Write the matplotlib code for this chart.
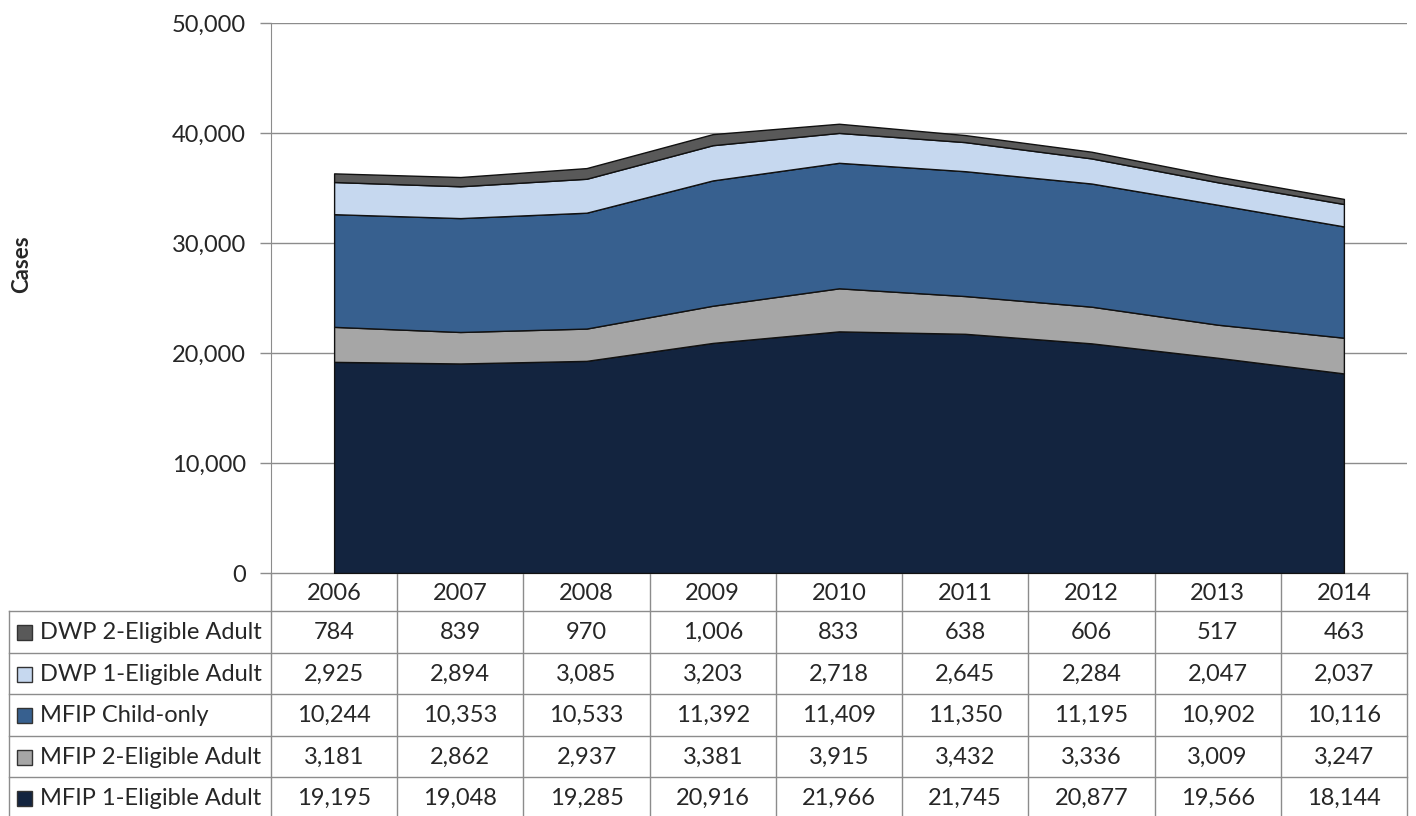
import numpy as np
import matplotlib
matplotlib.use('Agg')
import matplotlib.pyplot as plt
from matplotlib.patches import Rectangle

plt.rcParams['font.family'] = ['Lato', 'DejaVu Sans']

years = ['2006', '2007', '2008', '2009', '2010', '2011', '2012', '2013', '2014']

# stack order, bottom to top
mfip_1 = [19195, 19048, 19285, 20916, 21966, 21745, 20877, 19566, 18144]
mfip_2 = [3181, 2862, 2937, 3381, 3915, 3432, 3336, 3009, 3247]
mfip_child = [10244, 10353, 10533, 11392, 11409, 11350, 11195, 10902, 10116]
dwp_1 = [2925, 2894, 3085, 3203, 2718, 2645, 2284, 2047, 2037]
dwp_2 = [784, 839, 970, 1006, 833, 638, 606, 517, 463]

series_names = ['MFIP 1-Eligible Adult', 'MFIP 2-Eligible Adult', 'MFIP Child-only',
                'DWP 1-Eligible Adult', 'DWP 2-Eligible Adult']
series_vals = [mfip_1, mfip_2, mfip_child, dwp_1, dwp_2]
colors = ['#13243f', '#a6a6a6', '#37608f', '#c6d8ef', '#595959']

W, H = 1416, 816
fig = plt.figure(figsize=(W / 100, H / 100), dpi=100)
fs = 17
txt_c = '#262626'

# pixel layout
ax_l, ax_r, ax_t, ax_b = 271, 1407, 23, 573
ax = fig.add_axes([ax_l / W, 1 - ax_b / H, (ax_r - ax_l) / W, (ax_b - ax_t) / H])

x = np.arange(len(years))
ax.stackplot(x, *series_vals, colors=colors, edgecolor='#111111', linewidth=1.0, zorder=3)
ax.set_xlim(-0.5, len(years) - 0.5)
ax.set_ylim(0, 50000)
ax.set_yticks(np.arange(0, 50001, 10000))
ax.set_yticklabels([f'{v:,}' for v in range(0, 50001, 10000)], fontsize=fs, color=txt_c)
ax.yaxis.grid(True, color='#8c8c8c', linewidth=1.0, zorder=0)
ax.set_xticks([])
for s in ['top', 'right', 'bottom']:
    ax.spines[s].set_visible(False)
ax.spines['left'].set_color('#8c8c8c')
ax.tick_params(axis='y', length=8, width=1, color='#8c8c8c', pad=10)
ax.set_axisbelow(True)

fig.text(22 / W, 1 - 264 / H, 'Cases', rotation=90, fontsize=16, fontweight='bold',
         ha='center', va='center', color=txt_c)

# data table drawn in pixel coordinates
tb = fig.add_axes([0, 0, 1, 1], zorder=-1)
tb.set_xlim(0, W)
tb.set_ylim(H, 0)
tb.axis('off')

grid_c = '#8c8c8c'
col_w = (ax_r - ax_l) / len(years)
head_b = 611
row_h = 41.5
lab_l = 9
n_rows = len(series_names)

# vertical lines between year columns
for k in range(len(years) + 1):
    xx = ax_l + k * col_w
    tb.plot([xx, xx], [ax_b, head_b + n_rows * row_h], color=grid_c, lw=1)
tb.plot([lab_l, lab_l], [head_b, head_b + n_rows * row_h], color=grid_c, lw=1)
# horizontal lines
tb.plot([ax_l, ax_r], [ax_b, ax_b], color=grid_c, lw=1)
for r in range(n_rows + 1):
    yy = head_b + r * row_h
    tb.plot([lab_l, ax_r], [yy, yy], color=grid_c, lw=1)

for k, yr in enumerate(years):
    tb.text(ax_l + (k + 0.5) * col_w, (ax_b + head_b) / 2 + 1, yr, ha='center', va='center',
            fontsize=fs, color=txt_c)

for r in range(n_rows):
    idx = n_rows - 1 - r
    yc = head_b + (r + 0.5) * row_h + 1
    tb.add_patch(Rectangle((17, yc - 7.5), 15, 15, facecolor=colors[idx],
                           edgecolor='#333333', lw=1))
    tb.text(40, yc, series_names[idx], ha='left', va='center', fontsize=fs, color=txt_c)
    for k, v in enumerate(series_vals[idx]):
        tb.text(ax_l + (k + 0.5) * col_w, yc, f'{v:,}', ha='center', va='center',
                fontsize=fs, color=txt_c)

fig.savefig('out.png', dpi=100)
